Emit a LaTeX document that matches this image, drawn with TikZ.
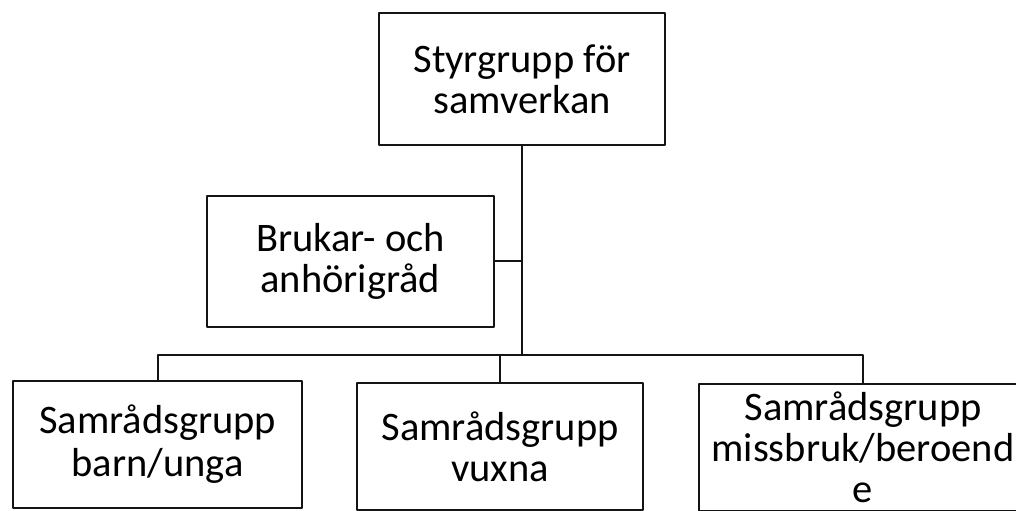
\documentclass[tikz,border=0pt]{standalone}
\usepackage{fontspec}
\setmainfont{Carlito}
\usepackage{tikz}
\usetikzlibrary{calc}
\definecolor{ramfarg}{rgb}{0.08,0.08,0.08}
\tikzstyle{every node}=[font=\fontsize{28.8}{29.2}\selectfont]
\tikzstyle{ruta}=[draw=ramfarg,line width=1.5pt,align=center,inner sep=0pt]
\begin{document}
\begin{tikzpicture}[line cap=round,line join=round,x=1.0cm,y=1.0cm]
            \clip(0.,0.) rectangle (25.4,12.75);
            \node[ruta,minimum width=7.15cm,minimum height=3.3cm] (styr) at (13.05,10.78) {Styrgrupp för\\samverkan};
            \node[ruta,minimum width=7.18cm,minimum height=3.28cm] (brukar) at (8.76,6.22) {Brukar- och\\anhörigråd};
            \node[ruta,minimum width=7.23cm,minimum height=3.18cm,font=\fontsize{28.8}{30.4}\selectfont] (barn) at (3.94,1.64) {Samrådsgrupp\\barn/unga};
            \node[ruta,minimum width=7.15cm,minimum height=3.18cm] (vuxna) at (12.5,1.59) {Samrådsgrupp\\vuxna};
            \node[ruta,minimum width=8.2cm,minimum height=3.18cm] (missbruk) at (21.575,1.56) {Samrådsgrupp\\missbruk/beroend\\e};
            \coordinate (buss) at (13.05,3.875);
            \draw [line width=1.5pt,color=ramfarg] (styr.south) -- (styr.south |- buss);
            \draw [line width=1.5pt,color=ramfarg] (brukar.east) -- (brukar.east -| styr.south);
            \draw [line width=1.5pt,color=ramfarg] (barn.north) |- (buss) -| (missbruk.north);
            \draw [line width=1.5pt,color=ramfarg] (vuxna.north) -- (vuxna.north |- buss);
\end{tikzpicture}
\end{document}
